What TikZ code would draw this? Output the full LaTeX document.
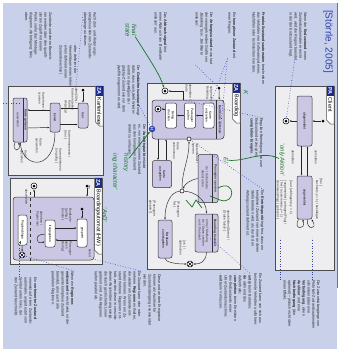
\documentclass[tikz,border=0pt]{standalone}
\usepackage{fontspec}
\setmainfont{Liberation Sans}
\usetikzlibrary{calc,arrows.meta,positioning}

\definecolor{slidebg}{RGB}{200,208,234}
\definecolor{panelbg}{RGB}{238,238,240}
\definecolor{statefill}{RGB}{202,198,228}
\definecolor{tabblue}{RGB}{28,42,135}
\definecolor{notelink}{RGB}{45,65,175}
\definecolor{pen}{RGB}{25,115,35}

\newcommand{\notefont}{\fontsize{3.7}{4.8}\selectfont}
\newcommand{\statefont}{\fontsize{3.2}{3.8}\selectfont}
\newcommand{\tabfont}{\fontsize{5.5}{6}\selectfont}

% frame label: name, right, top, length, kind, title
\newcommand{\frametab}[6]{%
  \draw[fill=white, draw=black!70, line width=0.5pt] (#2-7.5,#3) -- (#2,#3) -- (#2,#3+#4) -- (#2-3.5,#3+#4) -- (#2-7.5,#3+#4-4) -- cycle;
  \fill[tabblue] (#2-7.5,#3) rectangle (#2,#3+10);
  \node[rotate=-90, text=white, font=\tabfont\bfseries, inner sep=0pt] (#1kind) at (#2-3.75,#3+5) {#5};
  \node[rotate=-90, anchor=west, font=\tabfont, inner sep=0pt] (#1title) at (#2-3.75,#3+11.5) {#6};
}

\tikzset{
  panel/.style={draw=black!70, fill=panelbg, line width=0.8pt},
  state/.style={draw=black!80, fill=statefill, rounded corners=2pt, rotate=-90, font=\statefont, align=center, inner sep=0.5pt, line width=0.5pt},
  substate/.style={state, fill=white},
  note/.style={rotate=-90, anchor=north west, align=left, inner sep=0pt, font=\notefont, text=black!85},
  lbl/.style={rotate=-90, inner sep=0pt, font=\statefont, align=left, text=black!80},
  trans/.style={-{Latex[length=2.2pt,width=1.8pt]}, line width=0.45pt, black!85},
  link/.style={notelink, dotted, line width=0.6pt},
  scribble/.style={pen, line width=0.7pt},
  handtext/.style={rotate=-90, text=pen, font=\fontsize{6}{6.5}\selectfont\itshape, inner sep=0pt, align=center},
  finst/.style={circle, draw=black, fill=white, minimum size=6pt, inner sep=0pt, line width=0.5pt,
    path picture={\fill[black] (path picture bounding box.center) circle (1.5pt);}},
  initst/.style={circle, fill=black, minimum size=3pt, inner sep=0pt},
  termst/.style={circle, draw=black, fill=white, minimum size=6pt, inner sep=0pt, line width=0.5pt,
    path picture={\draw (path picture bounding box.south west) -- (path picture bounding box.north east) (path picture bounding box.north west) -- (path picture bounding box.south east);}},
  ptst/.style={circle, draw=black, fill=white, minimum size=4pt, inner sep=0pt, line width=0.5pt},
}

\begin{document}
\begin{tikzpicture}[x=1pt, y=-1pt]
	\useasboundingbox (0,0) rectangle (342,349);
	\fill[white] (0,0) rectangle (342,349);
	\fill[slidebg] (3,3) rectangle (337,349);
	\draw[black!55, line width=1.5pt] (337.5,3) -- (337.5,288);

	% notes, top row
	\node[rotate=-90, anchor=north west, inner sep=0pt, text=notelink, font=\fontsize{10}{12}\selectfont] (quelle) at (333,10) {[Störrle, 2005]};
	\node[note] (n_ende) at (307,12) {Wenn der \textbf{Endzustand} eines\\Zustandsautomaten erreicht\\wird, wird die Region beendet,\\in der der Endzustand liegt.};
	\node[note] (n_proto) at (265,12) {\textbf{Protokollzustandsautomaten} beschreiben\\das Verhalten von Softwaresystemen,\\Nutzfällen oder technischen Geräten.};
	\node[note] (n_komplex) at (236,12) {Ein \textbf{komplexer Zustand} mit\\einer Region.};
	\node[note] (n_anfang) at (213,12) {Der \textbf{Anfangszustand} muss laut\\der vorangehenden Grafik von\\‚Boarding‘ bzw. ‚Bordkarte\\einlesen‘.};
	\node[note] (n_abbruch) at (167,12) {Das \textbf{Abbruchsignal} löst\\einen Abbruch von ‚Bordkarte\\einlesen‘ aus.};
	\node[note] (n_gedaechtnis) at (140,65) {Der \textbf{Gedächtniszustand} sorgt\\dafür, dass nach dem Wieder-\\eintritt in die Region der\\gleiche Zustand wie vor dem\\Austritt eingenommen wird.};
	\node[note] (n_austritt) at (146,124) {Der \textbf{Austrittspunkt} erlaubt\\es, von einem inneren Zustand\\aus den komplexen Zustand\\direkt zu verlassen.};
	\node[note] (n_zeit) at (97,12) {Auch Zeit- und Änderungs-\\ereignisse können Zustands-\\übergänge auslösen:};
	\node[note] (n_after) at (77,43) {· \textit{after} definiert die\\\ \ Verweildauer eines Intervalls;\\· \textit{when} definiert einen\\\ \ Zustandswechsel.};
	\node[note] (n_zugriff) at (52,12) {Zustände und deren Bezeich-\\ner werden über den qualifi-\\zierten Zugriff mit einem\\Punkt, siehe das Montage-\\diagramm ‚Abfertigung‘ links\\oben.};

	% notes, right of boarding
	\node[note] (n_regulaer) at (263,118) {Reguläre Beendigung bis zum\\Endzustand erzeugt ein\\\textbf{completion-Ereignis}.};
	\node[note] (n_eintritt) at (264,190) {Ein \textbf{Eintrittspunkt} legt fest, dass ein\\komplexer Zustand von einer anderen\\Stelle betreten wird, als durch den\\Anfangszustand definiert ist.};

	% notes, bottom row
	\node[note] (n_pa) at (320,280) {Die Zustandsübergänge von\\Protokoll-Zustandsautomaten\\schreiben (über eine\\\textbf{Vorbedingung}, einen\\\textbf{Auslöser} und eine\\\textbf{Nachbedingung} (die\\optional) – jedoch nicht über\\einen Effekt.};
	\node[note] (n_verhalten) at (262,273) {Ein Zustand kann von sich aus\\bestimmte Verhalten ausführen:\\[1pt]· \textbf{entry} beim Betreten;\\· \textbf{do} während des\\\ \ Aufenthalts;\\· \textbf{completion} beim Erreichen\\\ \ des Endzustands einer\\\ \ Unter-Zustandsmaschine;\\· \textbf{exit} beim Verlassen.};
	\node[note] (n_ereignisse) at (161,274) {Diese und andere Ereignisse\\können als Auslöser für\\Zustandsübergänge verwendet\\werden.};
	\node[note] (n_regionen) at (141,271) {Ein Zustand kann eine oder\\mehrere \textbf{Regionen} enthalten,\\die wiederum Zustände ent-\\halten können. Wenn ein Zu-\\stand mehrere Regionen ent-\\hält, werden diese in verschie-\\denen Abschnitten angezeigt,\\die durch gestrichelte Linien\\getrennt sind. Alle Regionen\\laufen parallel ab.};
	\node[note] (n_regende) at (74,271) {Wenn ein \textbf{Regionen-}\\\textbf{endzustand} erreicht wird, ist der\\gesamte komplexe Zustand\\beendet, also auch alle\\parallelen Regionen.};
	\node[note] (n_verfeinert) at (37,277) {Ein \textbf{verfeinerter Zustand}\\verweist auf einen Zustands-\\automaten, angedeutet vom\\Symbol unten links, der\\den Zustand beschreibt.};

	% PA Client
	\draw[panel] (275,86) rectangle (334,270);
	\frametab{pa}{334}{86}{38}{PA}{Client}
	\node[state, minimum width=50pt, minimum height=15pt] (abgemeldet) at (304.5,121) {abgemeldet};
	\node[state, minimum width=43pt, minimum height=15pt] (angemeldet) at (304.5,197.5) {angemeldet};
	\node[finst] (paende) at (286,121) {};
	\node[initst] (pastart) at (323,121) {};
	\draw[trans] (pastart) -- (abgemeldet);
	\draw[trans] (abgemeldet) -- (paende);
	\draw[trans] ($(abgemeldet.east)+(-3,0)$) -- ($(angemeldet.west)+(-3,0)$);
	\draw[trans] ($(angemeldet.west)+(3,0)$) -- ($(abgemeldet.east)+(3,0)$);
	\draw[trans] ($(angemeldet.east)+(-6,0)$) .. controls +(-6,11) and +(4,11) .. ($(angemeldet.east)+(-2,0)$);
	\draw[trans] ($(angemeldet.east)+(3,0)$) .. controls +(-2,11) and +(7,11) .. ($(angemeldet.east)+(7,0)$);
	\node[lbl, anchor=west] (pa_an) at (316,150) {anmelden};
	\node[lbl, anchor=west] (pa_ab) at (293,150) {abmelden};
	\node[lbl, anchor=west] (pa_l1) at (321,178) {[ frei ]};
	\node[lbl, anchor=west] (pa_l2) at (317,180) {buchen(x,y = 1) / bestätigen};
	\node[lbl, anchor=west] (pa_l3) at (291,180) {[ laut ] abfragen(x,y = 1)};
	\node[lbl, anchor=north west, text width=58pt] (pa_l4) at (287,180) {[ angemeldet ] anfragen(Flug) /\\{}[ frei ] reservieren(x,y = 1)\\stornieren(Flug) [ gebucht ]};
	\draw[link] (n_ende) -- (paende);
	\draw[link] (n_pa.north west) ++(-8,0) coordinate (pa_n1) -- (pa_n1 |- pa_l4.north east);
	\draw[link] (n_pa.north west) ++(-40,0) coordinate (pa_n2) -- (pa_n2 |- pa_l4.north east);

	% ZA Boarding
	\draw[panel] (147,83) rectangle (240,269);
	\frametab{bd}{240}{83}{40}{ZA}{Boarding}
	\node[state, minimum width=39pt, minimum height=72pt, rounded corners=3pt] (bkarte) at (188,119.5) {};
	\draw[black!80, line width=0.4pt] (216,100) -- (216,139);
	\node[lbl, font=\statefont\bfseries] (bkartetitel) at (220,119.5) {Bordkarte einlesen};
	\node[substate, minimum width=25pt, minimum height=11pt] (einziehen) at (208.5,115.5) {Karte\\einziehen};
	\node[substate, minimum width=25pt, minimum height=11pt] (pruefen) at (190,115.5) {Passagier\\prüfen};
	\node[substate, minimum width=25pt, minimum height=11pt] (drucken) at (171,115.5) {Beleg\\drucken};
	\node[finst] (bkende) at (158,109) {};
	\node[circle, fill=notelink, minimum size=6.5pt, inner sep=0pt, text=white, rotate=-90, font=\fontsize{4}{4}\selectfont\bfseries] (bdhist) at (152,129) {H};
	\node[ptst] (eintritt) at (189,139) {};
	\node[finst] (bdende) at (165,91) {};
	\node[initst] (bdstart) at (219,88) {};
	\coordinate (bkaus) at (183,100);
	\draw[trans] (bkaus) |- (bdende);
	\draw[trans] (bdstart) -- ($(bkarte.north west)+(-5,0)$);
	\draw[trans] (einziehen) -- (pruefen);
	\draw[trans] (pruefen) -- (drucken);
	\draw[trans] (drucken.south |- bkende) -- (bkende);
	\node[lbl, anchor=north west] (bd_l1) at (192,84) {abmelden /\\Karte};
	\node[lbl, anchor=north west] (bd_l2) at (213,86) {aufgerufen /\\Boarding};

	\node[state, minimum width=27pt, minimum height=19pt] (ausgabe) at (162,174) {Karte\\ausgeben};
	\coordinate (ab1) at (158,139);
	\coordinate (ab2) at (166,139);
	\draw[trans] (ab1) -- (ab1 |- ausgabe.west);
	\draw[trans] (ab2 |- ausgabe.west) -- (ab2);
	\node[lbl, anchor=west] (bd_l3) at (176,142) {Karte\\entnommen};
	\node[lbl, anchor=west] (bd_l4) at (195,143) {Systemfehler /\\sperren};

	\node[state, minimum width=48pt, minimum height=20pt] (sperren) at (208,178.5) {};
	\draw[black!80, line width=0.4pt] (212.5,154.5) -- (212.5,202.5);
	\node[lbl, font=\statefont\bfseries] (sperrentitel) at (215.5,178.5) {Passagier sperren};
	\node[lbl, align=center] (sperrentext) at (205,178.5) {do / Sicherheits-\\dienst rufen};

	\node[state, minimum width=38pt, minimum height=23pt] (abschluss) at (206.5,233) {};
	\draw[black!80, line width=0.4pt] (212,214) -- (212,252);
	\node[lbl, font=\statefont\bfseries] (abschlusstitel) at (215,233) {Boarding beendet};
	\node[lbl, align=left] (abschlusstext) at (203.5,233) {entry / Meldung\\do / Daten senden\\exit / Protokoll};
	\node[state, minimum width=38pt, minimum height=14pt] (zurueck) at (165,239) {Bordkarte\\zurückgeben};
	\node[ptst] (junktion) at (182,191) {};
	\node[termst] (bdterm) at (190,264) {};
	\draw[trans] (sperren.south) .. controls (190,180) and (185,184) .. (junktion);
	\draw[trans] (junktion) .. controls (182,170) and (189,160) .. (eintritt);
	\draw[trans] (junktion) .. controls (170,192) and (165,205) .. (zurueck.west);
	\draw[trans] (junktion) .. controls (196,192) and (206,200) .. (abschluss.west);
	\draw[trans] (zurueck.east) .. controls (165,262) and (175,264) .. (bdterm);
	\draw[trans] (abschluss.east) .. controls (206,262) and (200,264) .. (bdterm);
	\node[lbl, anchor=north west] (bd_l5) at (156,200) {[ Passagier\\gesperrt ]};
	\node[lbl, anchor=north west] (bd_l6) at (180,201) {[ Passagier\\frei ]};
	\node[lbl, anchor=north west] (bd_l7) at (230,210) {abschließen(Daten) /\\{}[ Daten falsch ]};
	\node[lbl, anchor=north west] (bd_l8) at (186,240) {[ ok ] /\\abbrechen};

	\draw[link] (n_komplex.south east) -- (bkartetitel.east);
	\draw[link] (n_komplex.south east) -- ($(bkarte.north west)+(-12,0)$);
	\draw[link] (n_anfang.south east) -- (bdstart);
	\draw[link] (n_gedaechtnis.south west) -- (bdhist);
	\draw[link] (n_regulaer.north west) -- (bkaus);
	\draw[link] (n_eintritt.north west) -- (eintritt);
	\draw[link] (n_verhalten.north west) ++(-12,0) coordinate (bd_n1) -- (abschlusstext);

	% ZA Kartenleser
	\draw[panel] (8,86) rectangle (103,175);
	\frametab{kl}{103}{86}{40}{ZA}{Kartenleser}
	\node[state, minimum width=25pt, minimum height=10pt] (leer) at (83,115.5) {leer};
	\node[state, minimum width=29pt, minimum height=10pt] (bereit) at (55,117.5) {bereit};
	\node[state, minimum width=44pt, minimum height=14pt] (gelesen) at (20,120) {};
	\draw[black!80, line width=0.4pt] (23.5,98) -- (23.5,142);
	\node[lbl, font=\statefont\bfseries] (gelesentitel) at (25.5,120) {Karte gelesen};
	\node[lbl] (gelesentext) at (18,120) {auswerten};
	\node[initst] (kstart) at (83,90) {};
	\draw[trans] (kstart) -- (leer);
	\draw[trans] ($(leer.south)+(0,-7)$) -- ($(bereit.north)+(0,-9)$);
	\draw[trans] ($(bereit.north)+(0,7)$) -- ($(leer.south)+(0,9)$);
	\draw[trans] ($(bereit.south)+(0,-7.5)$) -- ($(gelesen.north)+(0,-10)$);
	\draw[trans] ($(gelesen.north)+(0,8)$) -- ($(bereit.south)+(0,10)$);
	\draw[trans] (bereit.east) .. controls (55,170) and (24,170) .. (gelesen.east);
	\draw[trans] ($(gelesen.east)+(-5,0)$) .. controls +(-4,10) and +(3,10) .. ($(gelesen.east)+(-1.5,0)$);
	\node[lbl, anchor=north west] (kl_l1) at (78,88) {after(30s) /\\Karte einziehen};
	\node[lbl, anchor=north west] (kl_l2) at (71,100) {Karte\\eingelegt};
	\node[lbl, anchor=north west] (kl_l3) at (71,130) {Karte entnommen /\\{}[ leer ]};
	\node[lbl, anchor=north west] (kl_l4) at (45,92) {Karte lesen /\\scannen};
	\node[lbl, anchor=north west] (kl_l5) at (42,138) {Karte\\auswerfen};
	\node[lbl, anchor=north west] (kl_l6) at (62,148) {Karte ablehnen /\\{}[ ungültig ]};
	\node[lbl, anchor=north west] (kl_l7) at (27,150) {Karte\\abziehen};
	\draw[link] (n_zeit.south west) -- (kl_l1);
	\coordinate (kl_rand) at (3,103);
	\draw[link] (kl_rand) -- (gelesen.west |- kl_rand);

	% ZA Boardingautomat (HW)
	\draw[panel] (10,178) rectangle (102,264);
	\frametab{ba}{102}{178}{76}{ZA}{Boardingautomat (HW)}
	\node[state, minimum width=63pt, minimum height=81pt, rounded corners=3pt] (betrieb) at (53.5,228.5) {};
	\node[lbl] (betriebtitel) at (90,253) {bereit};
	\draw[black!80, dashed, line width=0.5pt] (30,192) -- (30,263);
	\node[substate, minimum width=28pt, minimum height=10pt] (gesperrt) at (82,233) {gesperrt};
	\node[substate, minimum width=27pt, minimum height=10pt] (frei) at (50,233.5) {freigegeben};
	\node[substate, minimum width=30pt, minimum height=9pt] (papier) at (22.5,230) {Papierablage};
	\draw[pen, line width=0.5pt] (20,241) -- (20,244) (19,242.5) -- (21,242.5);
	\node[finst] (baende) at (34,186) {};
	\node[termst] (baterm) at (22,255) {};
	\node[initst] (bastart) at (87,186) {};
	\node[initst] (bainnen) at (82,209) {};
	\coordinate (baaus) at (34,197);
	\draw[trans] (bastart) -- (bastart |- betrieb.north west);
	\draw[trans] (bainnen) -- (gesperrt);
	\draw[trans] (baaus) -- (baende);
	\draw[trans] ($(frei.north)+(0,-5.5)$) -- ($(gesperrt.south)+(0,-5)$);
	\draw[trans] ($(gesperrt.south)+(0,7)$) -- ($(frei.north)+(0,6.5)$);
	\draw[trans] ($(frei.south)+(0,1)$) .. controls +(-10,-2) and +(-10,4) .. ($(frei.south)+(0,8)$);
	\draw[trans] (papier) -- (baterm);
	\node[lbl, anchor=north west] (ba_l0) at (91,185) {ein};
	\node[lbl, anchor=north west] (ba_l4) at (28,189) {abschalten};
	\node[lbl, anchor=north west] (ba_l1) at (72,208) {Bordkarte\\{}[ gültig ]\\{}[ lesbar ]};
	\node[lbl, anchor=north west] (ba_l2) at (72,241) {Passagier\\durch\\{}[ fertig ]};
	\node[lbl, anchor=north west] (ba_l3) at (43,211) {abheben /\\Papier leer};
	\draw[link] (n_regionen.north west) -- ($(betrieb.north east)+(0,-1)$);
	\draw[link] (n_regende.north west) -- (baterm);
	\draw[link] (n_verfeinert.north west) ++(-18,0) coordinate (ba_n1) -- (ba_n1 |- papier.east);

	% handwriting
	\node[handtext] (g_final) at (131,30) {final\\state};
	\draw[scribble, -{Stealth[length=3pt]}] (g_final) .. controls (150,60) and (160,75) .. (bdende);
	\node[handtext] (g_hist) at (126,162) {'history};
	\draw[scribble, -{Stealth[length=3pt]}] (g_hist) -- (bdhist);
	\node[handtext] (g_char) at (115,172) {ing character'};
	\node[handtext] (g_and) at (105,215) {'AnD'};
	\node[handtext] (g_e) at (226,160) {E/};
	\node[handtext] (g_k) at (246,92) {K};
	\node[handtext] (g_aktion) at (282,160) {'only Aktion'};
	\draw[scribble] (g_aktion) .. controls (262,150) and (245,162) .. (g_e);
	\draw[scribble] (218,188) .. controls (236,178) and (236,206) .. (220,200) -- (210,196);
	\draw[scribble] (186,200) -- (192,207) -- (196,200) -- (202,208);
\end{tikzpicture}
\end{document}
